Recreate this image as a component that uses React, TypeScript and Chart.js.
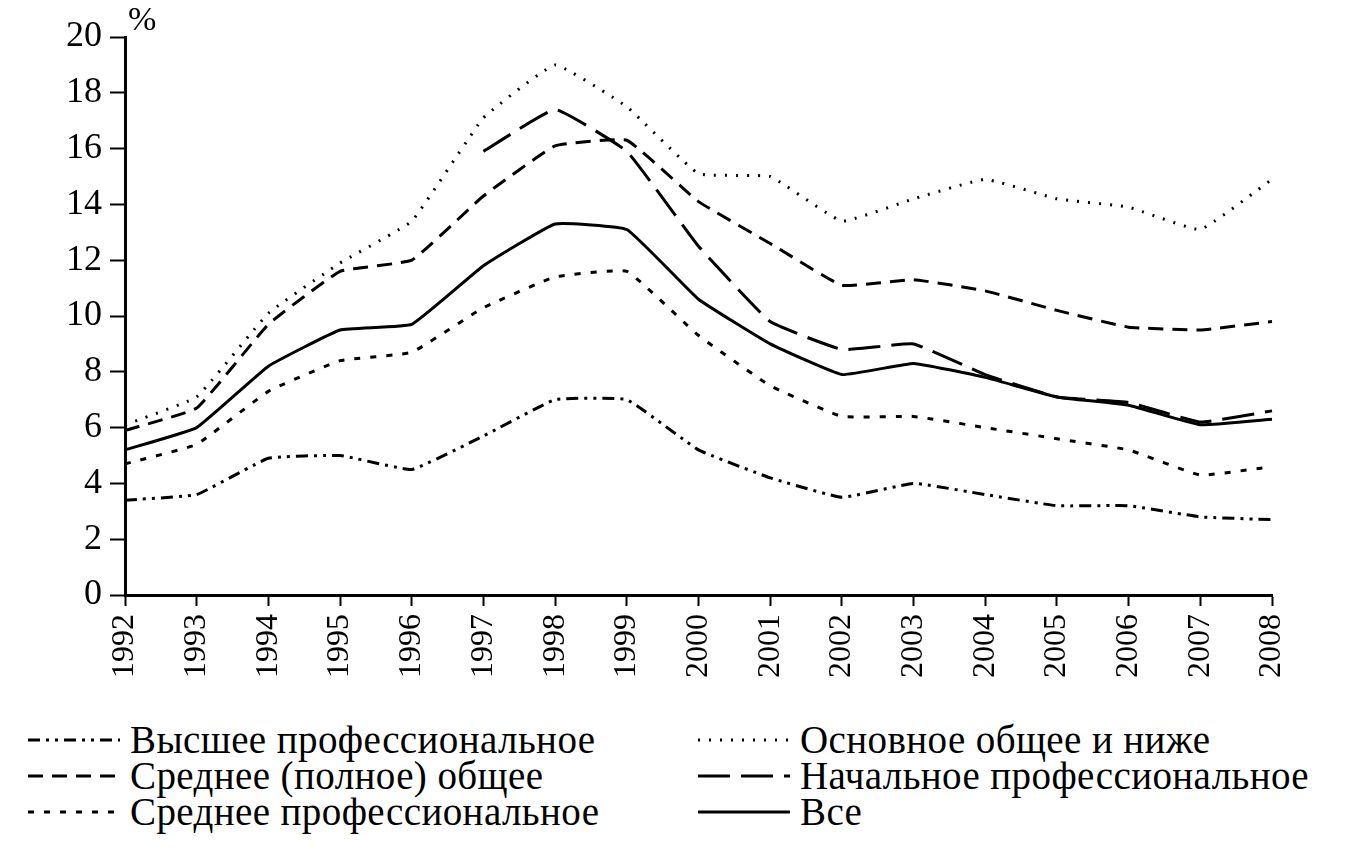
import { useEffect, useRef } from "react";
import { Chart, registerables } from "chart.js";
Chart.register(...registerables);

const years = [
  "1992", "1993", "1994", "1995", "1996", "1997", "1998", "1999", "2000",
  "2001", "2002", "2003", "2004", "2005", "2006", "2007", "2008",
];

const higherProf = [3.4, 3.6, 4.9, 5.0, 4.5, 5.7, 7.0, 7.0, 5.2, 4.2, 3.5, 4.0, 3.6, 3.2, 3.2, 2.8, 2.7];
const basicGeneral = [6.1, 7.1, 10.1, 11.9, 13.4, 17.1, 19.0, 17.5, 15.1, 15.0, 13.4, 14.2, 14.9, 14.2, 13.9, 13.1, 14.9];
const secondaryGeneral = [5.9, 6.7, 9.7, 11.6, 12.0, 14.3, 16.1, 16.3, 14.1, 12.6, 11.1, 11.3, 10.9, 10.2, 9.6, 9.5, 9.8];
const primaryProf = [null, null, null, null, null, 15.9, 17.4, 15.9, 12.5, 9.8, 8.8, 9.0, 7.9, 7.1, 6.9, 6.2, 6.6];
const secondaryProf = [4.7, 5.4, 7.3, 8.4, 8.7, 10.3, 11.4, 11.6, 9.3, 7.5, 6.4, 6.4, 6.0, 5.6, 5.2, 4.3, 4.6];
const allLevels = [5.2, 6.0, 8.2, 9.5, 9.7, 11.8, 13.3, 13.1, 10.6, 9.0, 7.9, 8.3, 7.8, 7.1, 6.8, 6.1, 6.3];

const yTicks = [0, 2, 4, 6, 8, 10, 12, 14, 16, 18, 20];

const FONT = '"Times New Roman", Tinos, "Liberation Serif", "DejaVu Serif", "Noto Serif", serif';

const series = [
  { label: "Высшее профессиональное", data: higherProf, dash: [12, 6, 3, 6, 3, 6], width: 3 },
  { label: "Основное общее и ниже", data: basicGeneral, dash: [2, 9], width: 3 },
  { label: "Среднее (полное) общее", data: secondaryGeneral, dash: [15, 9], width: 3 },
  { label: "Начальное профессиональное", data: primaryProf, dash: [32, 11], width: 3 },
  { label: "Среднее профессиональное", data: secondaryProf, dash: [6, 10], width: 3 },
  { label: "Все", data: allLevels, dash: [], width: 3 },
];

const legendLeft = [series[0], series[2], series[4]];
const legendRight = [series[1], series[3], series[5]];

const LegendItem = ({ s }: { s: (typeof series)[number] }) => (
  <div style={{ display: "flex", alignItems: "center", height: 36 }}>
    <svg width={92} height={10} style={{ marginRight: 10 }}>
      <line
        x1={0}
        y1={5}
        x2={92}
        y2={5}
        stroke="#000"
        strokeWidth={s.width}
        strokeDasharray={s.dash.length ? s.dash.join(" ") : undefined}
      />
    </svg>
    <span>{s.label}</span>
  </div>
);

const App = () => {
  const canvasRef = useRef<HTMLCanvasElement>(null);
  const chartRef = useRef<Chart | null>(null);

  useEffect(() => {
    if (!canvasRef.current) return;
    if (chartRef.current) chartRef.current.destroy();

    chartRef.current = new Chart(canvasRef.current, {
      type: "line",
      data: {
        labels: years,
        datasets: series.map((s) => ({
          label: s.label,
          data: s.data,
          borderColor: "#000",
          borderWidth: s.width,
          borderDash: s.dash,
          pointRadius: 0,
          tension: 0.1,
          fill: false,
          spanGaps: false,
        })),
      },
      options: {
        animation: false,
        responsive: false,
        maintainAspectRatio: false,
        layout: { padding: { top: 37, right: 90, left: 0, bottom: 0 } },
        plugins: {
          legend: { display: false },
          tooltip: { enabled: false },
        },
        scales: {
          x: {
            offset: false,
            border: { display: true, color: "#000", width: 3 },
            grid: {
              drawOnChartArea: false,
              drawTicks: true,
              tickLength: 11,
              tickWidth: 2,
              tickColor: "#000",
            },
            ticks: {
              color: "#000",
              font: { family: FONT, size: 32 },
              minRotation: 90,
              maxRotation: 90,
              padding: 8,
              autoSkip: false,
            },
            afterFit: (scale) => {
              scale.height = 105;
            },
          },
          y: {
            min: 0,
            max: 20,
            afterBuildTicks: (scale) => {
              scale.ticks = yTicks.map((v) => ({ value: v }));
            },
            border: { display: true, color: "#000", width: 3 },
            grid: {
              drawOnChartArea: false,
              drawTicks: true,
              tickLength: 15,
              tickWidth: 2,
              tickColor: "#000",
            },
            ticks: {
              color: "#000",
              font: { family: FONT, size: 36 },
              padding: 8,
            },
            afterFit: (scale) => {
              scale.width = 125;
            },
          },
        },
      },
    });

    return () => {
      chartRef.current?.destroy();
    };
  }, []);

  return (
    <div
      style={{
        position: "fixed",
        left: 0,
        top: 0,
        width: 1362,
        height: 863,
        background: "#fff",
        fontFamily: FONT,
        color: "#000",
      }}
    >
      <canvas ref={canvasRef} width={1362} height={700} style={{ position: "absolute", left: 0, top: 0 }} />
      <div style={{ position: "absolute", left: 128, top: 0, fontSize: 34 }}>%</div>
      <div style={{ position: "absolute", left: 28, top: 722, fontSize: 39, lineHeight: "36px", letterSpacing: 0.4 }}>
        {legendLeft.map((s) => (
          <LegendItem key={s.label} s={s} />
        ))}
      </div>
      <div style={{ position: "absolute", left: 698, top: 722, fontSize: 39, lineHeight: "36px", letterSpacing: 0.4 }}>
        {legendRight.map((s) => (
          <LegendItem key={s.label} s={s} />
        ))}
      </div>
    </div>
  );
};

export default App;
